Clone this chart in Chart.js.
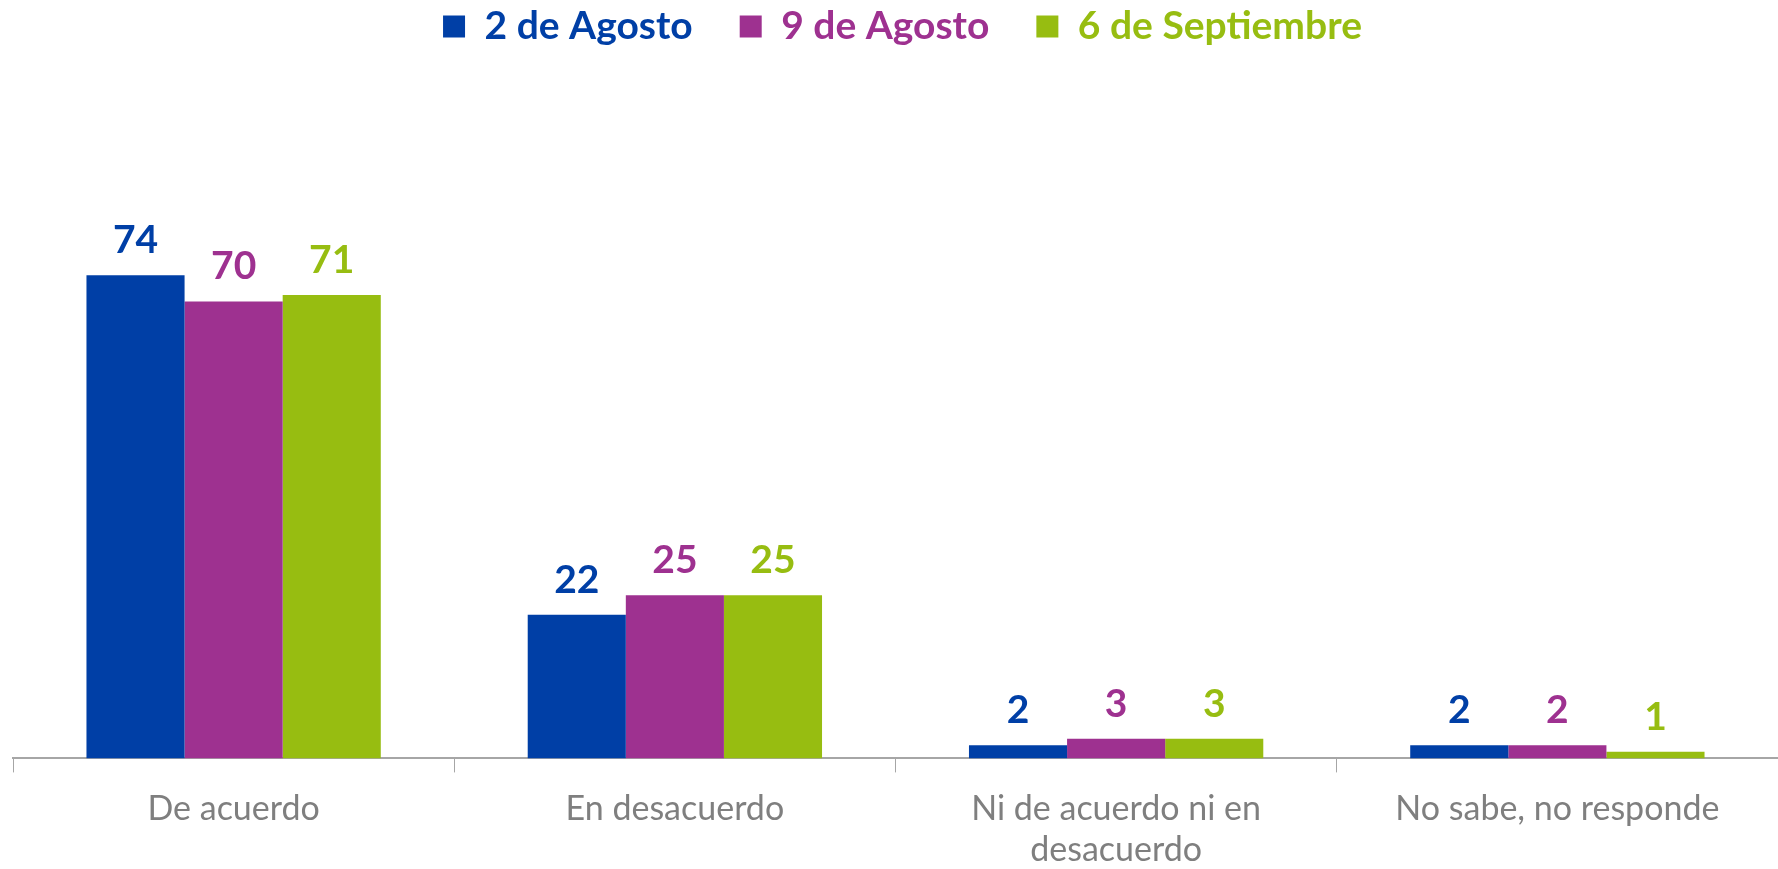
<!DOCTYPE html>
<html>
<head>
<meta charset="utf-8">
<script src="https://cdn.jsdelivr.net/npm/chart.js@4"></script>
<style>
  html, body { margin: 0; padding: 0; background: #fff; }
  #wrap { width: 1778px; height: 869px; }
</style>
</head>
<body>
<div id="wrap"><canvas id="grafico"></canvas></div>
<script>
// Categorías del eje X
const categorias = [
  "De acuerdo",
  "En desacuerdo",
  ["Ni de acuerdo ni en", "desacuerdo"],
  "No sabe, no responde"
];

// Series (porcentajes)
const agosto2 = [74, 22, 2, 2];
const agosto9 = [70, 25, 3, 2];
const septiembre6 = [71, 25, 3, 1];

const nombresSeries = ["2 de Agosto", "9 de Agosto", "6 de Septiembre"];
const colores = ["#003FA6", "#9E3190", "#97BD11"];

// Plugin simple para dibujar los valores sobre cada barra
const etiquetasValores = {
  id: "etiquetasValores",
  afterDatasetsDraw(chart) {
    const ctx = chart.ctx;
    ctx.save();
    ctx.font = "bold 39px Lato";
    ctx.textAlign = "center";
    ctx.textBaseline = "alphabetic";
    chart.data.datasets.forEach((ds, i) => {
      const meta = chart.getDatasetMeta(i);
      ctx.fillStyle = ds.backgroundColor;
      meta.data.forEach((bar, j) => {
        ctx.fillText(ds.data[j], bar.x, bar.y - 22);
      });
    });
    ctx.restore();
  }
};

const ctx = document.getElementById("grafico").getContext("2d");
new Chart(ctx, {
  type: "bar",
  data: {
    labels: categorias,
    datasets: [
      { label: nombresSeries[0], data: agosto2, backgroundColor: colores[0] },
      { label: nombresSeries[1], data: agosto9, backgroundColor: colores[1] },
      { label: nombresSeries[2], data: septiembre6, backgroundColor: colores[2] }
    ]
  },
  options: {
    responsive: true,
    maintainAspectRatio: false,
    animation: false,
    layout: { padding: { left: 13, right: -14, top: -40, bottom: -17 } },
    datasets: {
      bar: { barPercentage: 1, categoryPercentage: 0.667 }
    },
    scales: {
      x: {
        grid: {
          offset: true,
          drawOnChartArea: false,
          tickLength: 14,
          color: "#a6a6a6"
        },
        border: { color: "#a6a6a6", width: 2 },
        ticks: {
          color: "#7f7f7f",
          font: { family: "Lato", size: 34 },
          padding: 16,
          maxRotation: 0
        }
      },
      y: {
        display: false,
        min: 0,
        max: 107.6
      }
    },
    plugins: {
      tooltip: { enabled: false },
      legend: {
        position: "top",
        labels: {
          boxWidth: 22,
          boxHeight: 22,
          padding: 47,
          font: { family: "Lato", size: 39, weight: "bold" },
          generateLabels(chart) {
            const items = Chart.defaults.plugins.legend.labels.generateLabels(chart);
            items.forEach(it => { it.fontColor = it.fillStyle; it.lineWidth = 0; });
            return items;
          }
        }
      }
    }
  },
  plugins: [etiquetasValores]
});
</script>
</body>
</html>
